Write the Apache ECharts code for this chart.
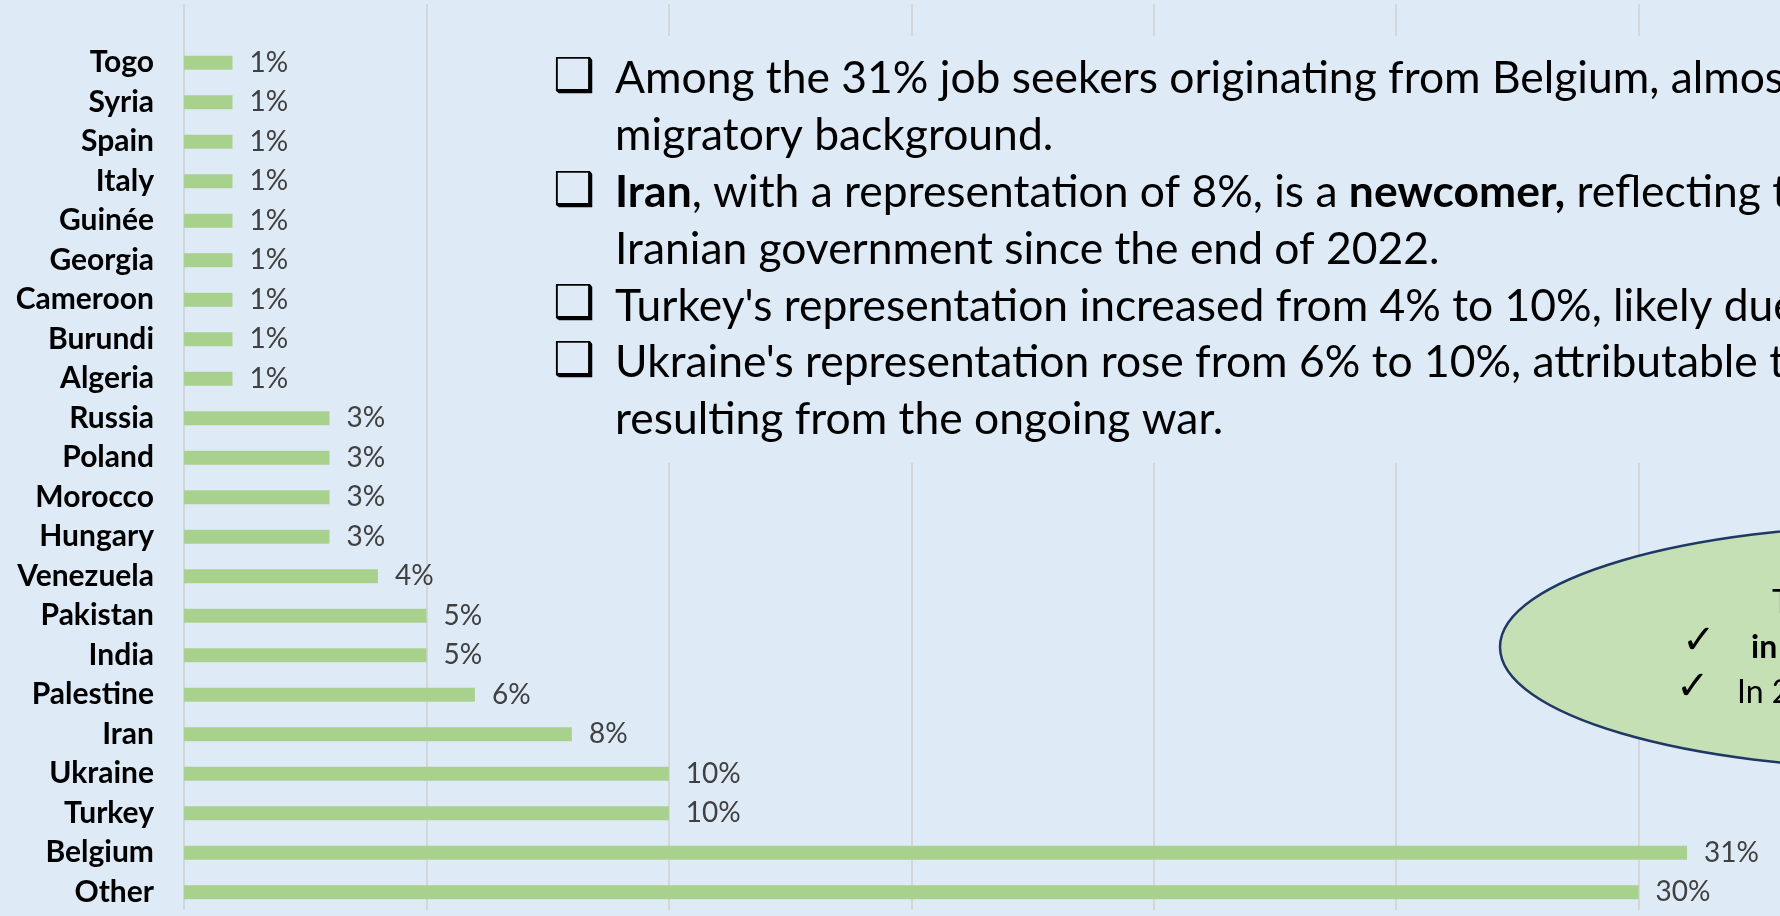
<!DOCTYPE html>
<html>
<head>
<meta charset="utf-8">
<script src="https://cdn.jsdelivr.net/npm/echarts@6/dist/echarts.min.js"></script>
<style>
  html, body { margin: 0; padding: 0; background: #DEEBF7; }
  #chart { width: 1780px; height: 916px; }
</style>
</head>
<body>
<div id="chart"></div>
<script>
// Job seekers by country of origin (share of total, %)
const countries = ['Togo', 'Syria', 'Spain', 'Italy', 'Guinée', 'Georgia', 'Cameroon', 'Burundi', 'Algeria',
  'Russia', 'Poland', 'Morocco', 'Hungary', 'Venezuela', 'Pakistan', 'India', 'Palestine', 'Iran',
  'Ukraine', 'Turkey', 'Belgium', 'Other'];
const shares = [1, 1, 1, 1, 1, 1, 1, 1, 1, 3, 3, 3, 3, 4, 5, 5, 6, 8, 10, 10, 31, 30];

// Share axis: 0 to 35 % in steps of 5
const axisMin = 0;
const axisMax = 35;
const axisStep = 5;

// Commentary block next to the bars
const notes = [
  { bullet: true, text: 'Among the 31% job seekers originating from Belgium, almost' },
  { bullet: false, text: 'migratory background.' },
  { bullet: true, text: '{b|Iran}, with a representation of 8%, is a {b|newcomer,} reflecting the' },
  { bullet: false, text: 'Iranian government since the end of 2022.' },
  { bullet: true, text: "Turkey's representation increased from 4% to 10%, likely due" },
  { bullet: true, text: "Ukraine's representation rose from 6% to 10%, attributable to" },
  { bullet: false, text: 'resulting from the ongoing war.' }
];

const BG = '#DEEBF7';
const TEXT_FONT = 'Lato, "DejaVu Sans", sans-serif';
const SYMBOL_FONT = '"DejaVu Sans", sans-serif';
const NOTE_SIZE = 44.4;

const chart = echarts.init(document.getElementById('chart'), null, { renderer: 'canvas' });

const graphics = [];
// panel behind the commentary hides the grid lines there
graphics.push({
  type: 'rect', z: 5,
  shape: { x: 540, y: 36, width: 1240, height: 427 },
  style: { fill: BG }
});
notes.forEach((n, i) => {
  const y = 79 + i * 56.8;
  if (n.bullet) {
    graphics.push({
      type: 'text', z: 6,
      style: {
        text: '\u2751', x: 553, y: y, fill: '#000',
        fontFamily: SYMBOL_FONT, fontSize: 47,
        align: 'left', verticalAlign: 'middle',
        textAlign: 'left', textVerticalAlign: 'middle'
      }
    });
  }
  graphics.push({
    type: 'text', z: 6,
    style: {
      text: n.text, x: 615, y: y, fill: '#000',
      fontFamily: TEXT_FONT, fontSize: NOTE_SIZE,
      align: 'left', verticalAlign: 'middle',
      textAlign: 'left', textVerticalAlign: 'middle',
      rich: { b: { fontFamily: TEXT_FONT, fontSize: NOTE_SIZE, fontWeight: 'bold', fill: '#000' } }
    }
  });
});

// highlighted callout
graphics.push({
  type: 'ellipse', z: 5,
  shape: { cx: 1914, cy: 647, rx: 414, ry: 122 },
  style: { fill: '#C5E0B4', stroke: '#1F3864', lineWidth: 2.5 }
});
const calloutText = (text, x, y, font, size, weight) => ({
  type: 'text', z: 6,
  style: {
    text: text, x: x, y: y, fill: '#000',
    fontFamily: font, fontSize: size, fontWeight: weight || 'normal',
    align: 'left', verticalAlign: 'middle',
    textAlign: 'left', textVerticalAlign: 'middle'
  }
});
graphics.push(calloutText('T', 1772, 603, TEXT_FONT, 32));
graphics.push(calloutText('\u2713', 1682, 643, SYMBOL_FONT, 40));
graphics.push(calloutText('in', 1751, 648, TEXT_FONT, 32, 'bold'));
graphics.push(calloutText('\u2713', 1676, 689, SYMBOL_FONT, 40));
graphics.push(calloutText('In 20', 1737, 693, TEXT_FONT, 32));

const option = {
  backgroundColor: BG,
  animation: false,
  grid: [
    { left: 184, width: 1697, top: 43, height: 869, containLabel: false, outerBoundsMode: 'none' },
    { left: 184, width: 1697, top: 4, height: 906, containLabel: false, outerBoundsMode: 'none' }
  ],
  xAxis: [
    {
      gridIndex: 0, type: 'value', min: axisMin, max: axisMax, interval: axisStep,
      axisLabel: { show: false }, axisLine: { show: false }, axisTick: { show: false },
      splitLine: { show: false }
    },
    {
      gridIndex: 1, type: 'value', min: axisMin, max: axisMax, interval: axisStep,
      axisLabel: { show: false }, axisLine: { show: false }, axisTick: { show: false },
      splitLine: { show: true, lineStyle: { color: '#D0D0D0', width: 1.5 } }
    }
  ],
  yAxis: [
    {
      gridIndex: 0, type: 'category', data: countries, inverse: true,
      axisLine: { show: false }, axisTick: { show: false }, splitLine: { show: false },
      axisLabel: {
        margin: 30, color: '#000', fontFamily: TEXT_FONT, fontWeight: 'bold', fontSize: 30
      }
    },
    { gridIndex: 1, type: 'value', min: 0, max: 1, show: false }
  ],
  series: [
    {
      type: 'bar',
      xAxisIndex: 0, yAxisIndex: 0,
      data: shares,
      barWidth: 14,
      itemStyle: { color: '#A9D18E' },
      label: {
        show: true, position: 'right', distance: 17,
        formatter: p => p.value + '%',
        color: '#404040', fontFamily: TEXT_FONT, fontSize: 28
      }
    }
  ],
  graphic: graphics
};

chart.setOption(option);
</script>
</body>
</html>
